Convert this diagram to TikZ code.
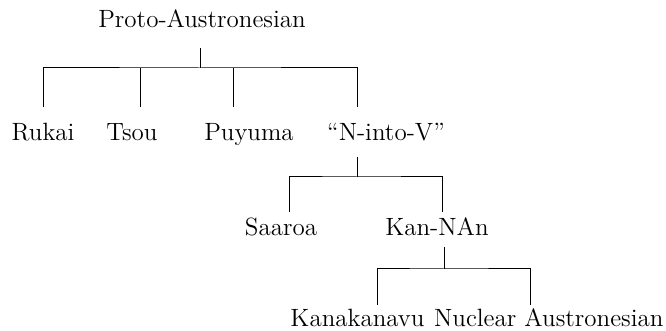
\documentclass[tikz,border=0pt]{standalone}
\begin{document}
\begin{tikzpicture}[x=0.5pt,y=-0.5pt,line width=0.5pt,
  lang/.style={anchor=base,inner sep=0pt,font=\fontsize{12.5}{15}\selectfont}]
\useasboundingbox (0,0) rectangle (666,331);
% labels
\node[lang] (pan) at (202,28) {Proto-Austronesian};
\node[lang] (rukai) at (43,141) {Rukai};
\node[lang] (tsou) at (132,141) {Tsou};
\node[lang] (puyuma) at (249,141) {Puyuma};
\node[lang] (nintov) at (386,141) {``N-into-V''};
\node[lang] (saaroa) at (281,236) {Saaroa};
\node[lang] (kannan) at (437,236) {Kan-NAn};
\node[lang,anchor=base east] (kanak) at (425,327) {Kanakanavu};
\node[lang,anchor=base east] (nuclear) at (664,327) {Nuclear Austronesian};
% branch points
\coordinate (pan-top) at (200,48);
\coordinate (pan-bar) at (200,68);
\coordinate (rukai-top) at (43,107);
\coordinate (tsou-top) at (140,107);
\coordinate (puyuma-top) at (233,107);
\coordinate (nintov-top) at (357,107);
\coordinate (nintov-bot) at (357,157);
\coordinate (nintov-bar) at (357,177);
\coordinate (saaroa-top) at (289,212);
\coordinate (kannan-top) at (442,212);
\coordinate (kannan-bot) at (444,247);
\coordinate (kannan-bar) at (444,269);
\coordinate (kanak-top) at (377,305);
\coordinate (nuclear-top) at (530,305);
% tree
\draw (pan-top) -- (pan-bar);
\draw (rukai-top) |- (pan-bar) -| (nintov-top);
\draw (tsou-top) -- (tsou-top |- pan-bar);
\draw (puyuma-top) -- (puyuma-top |- pan-bar);
\draw (nintov-bot) -- (nintov-bar);
\draw (saaroa-top) |- (nintov-bar) -| (kannan-top);
\draw (kannan-bot) -- (kannan-bar);
\draw (kanak-top) |- (kannan-bar) -| (nuclear-top);
\end{tikzpicture}
\end{document}
